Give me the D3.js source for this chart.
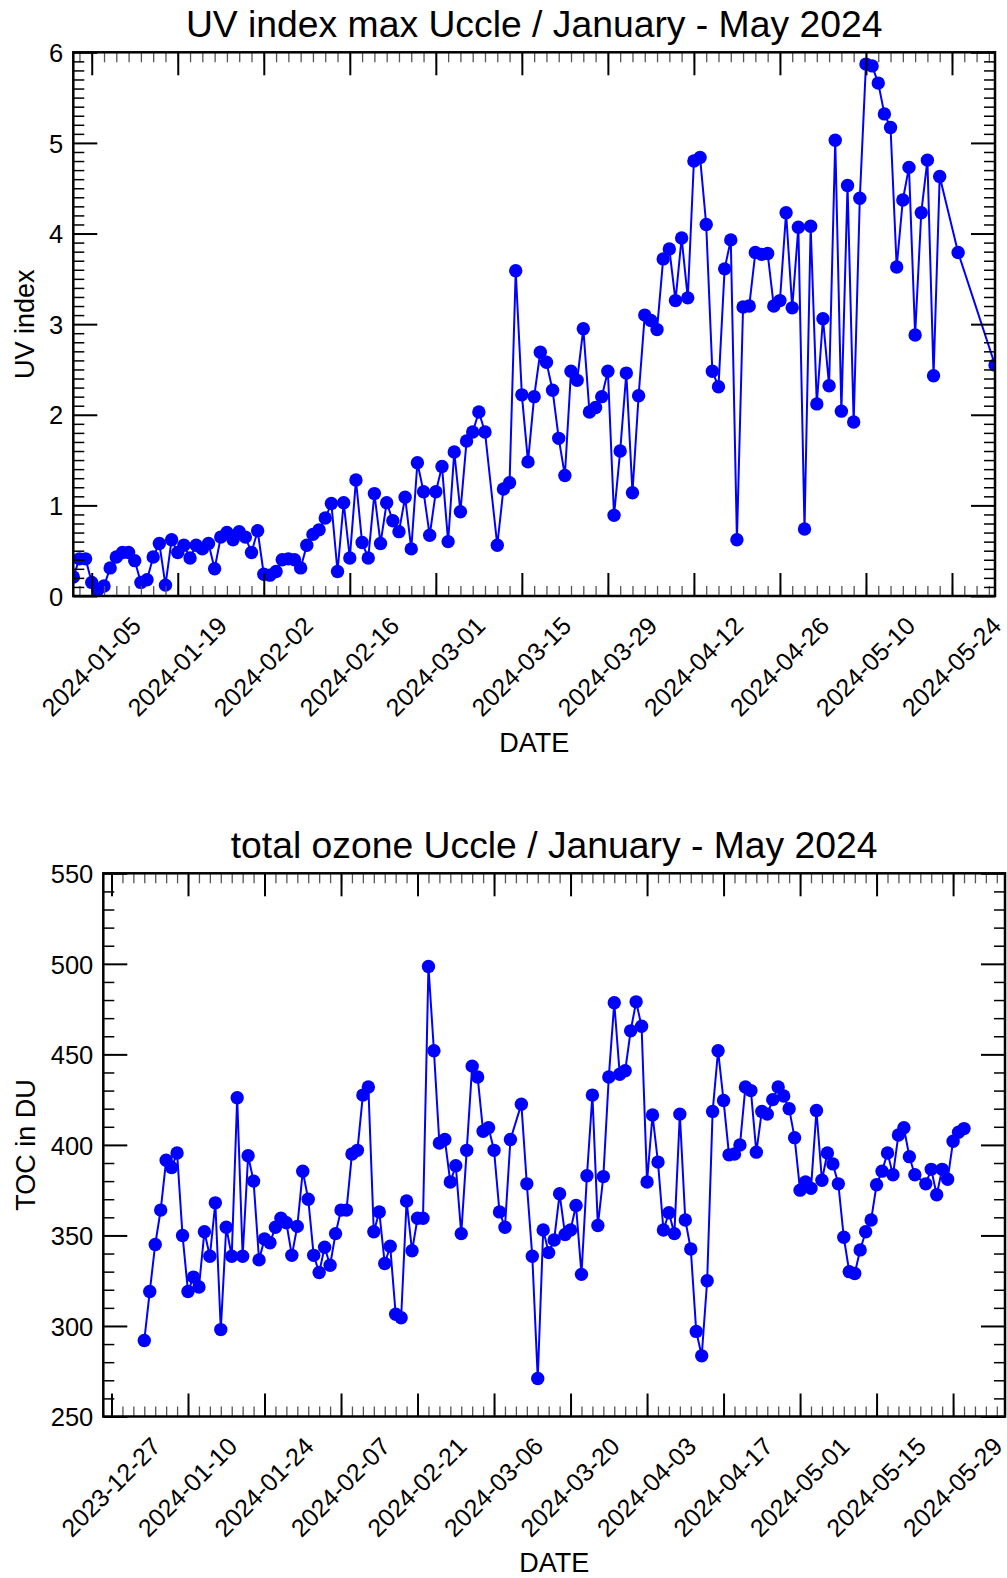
<!DOCTYPE html>
<html>
<head>
<meta charset="utf-8">
<script src="https://cdn.jsdelivr.net/npm/d3@7"></script>
<style>
  html, body { margin: 0; padding: 0; background: #fff; }
  svg { display: block; font-family: "Liberation Sans", Arial, Helvetica, sans-serif; }
</style>
</head>
<body>
<svg id="chart" width="1007" height="1578"></svg>
<script>
// Daily maximum UV index, Uccle 2024 — one entry per calendar day, null = no observation
const uvJanuary = [null, 0.21, 0.41, 0.41, 0.15, 0.07, 0.11, 0.31, 0.43, 0.48, 0.48, 0.39, 0.15, 0.18, 0.43, 0.58,
  0.12, 0.62, 0.48, 0.56, 0.42, 0.56, 0.52, 0.58, 0.30, 0.65, 0.70, 0.62, 0.71, 0.65, 0.48];
const uvFebruary = [0.72, 0.24, 0.23, 0.27, 0.40, 0.41, 0.40, 0.31, 0.56, 0.68, 0.73, 0.86, 1.02, 0.27, 1.03,
  0.42, 1.28, 0.59, 0.42, 1.13, 0.58, 1.03, 0.83, 0.71, 1.09, 0.52, 1.47, 1.15, 0.67];
const uvMarch = [1.15, 1.43, 0.60, 1.59, 0.93, 1.71, 1.81, 2.03, 1.81, null, 0.56, 1.18, 1.25, 3.59, 2.22, 1.48,
  2.20, 2.69, 2.58, 2.27, 1.74, 1.33, 2.48, 2.38, 2.95, 2.03, 2.08, 2.20, 2.48, 0.89, 1.60];
const uvApril = [2.46, 1.14, 2.21, 3.10, 3.04, 2.94, 3.72, 3.83, 3.26, 3.95, 3.29, 4.80, 4.84, 4.10, 2.48,
  2.31, 3.61, 3.93, 0.62, 3.19, 3.20, 3.79, 3.77, 3.78, 3.20, 3.26, 4.23, 3.18, 4.07, 0.74];
const uvMay = [4.08, 2.12, 3.06, 2.32, 5.03, 2.04, 4.53, 1.92, 4.39, 5.87, 5.85, 5.66, 5.32, 5.17, 3.63, 4.37,
  4.73, 2.88, 4.23, 4.81, 2.43, 4.63, null, null, 3.79, null, null, null, null, null, 2.55];

// Daily total ozone column (DU), Uccle 2024
const ozoneJanuary = [null, 292, 319, 345, 364, 391.5, 387.5, 395.5, 350, 319, 327, 321.5, 352, 338.5, 368, 298,
  354.5, 338.5, 426, 338.5, 394, 380, 336.5, 348, 346, 354.5, 359.5, 357, 339, 355, 385.5];
const ozoneFebruary = [370, 339, 329.5, 343.5, 333.5, 351, 364, 364, 395, 397, 427.5, 432, 352, 363, 334.5,
  344, 306.5, 304.5, 369, 341.5, 359.5, 359.5, 498.5, 452, 401, 403, 379.5, 388.5, 351];
const ozoneMarch = [397, 443.5, 437.5, 407.5, 409.5, 397, 363, 354.5, 403, null, 422.5, 378.5, 338.5, 271, 353,
  340.5, 347.5, 373, 350.5, 353, 366.5, 328.5, 383, 427.5, 355.5, 382.5, 437.5, 478.5, 439, 441, 463];
const ozoneApril = [479, 465.5, 379.5, 416.5, 390.5, 353, 362.5, 351, 417, 358.5, 342.5, 297, 283.5, 325, 418.5,
  452, 424.5, 394.5, 395, 400, 432, 430, 396, 418.5, 417, 425, 432, 427, 420, 404];
const ozoneMay = [375, 379.5, 376, 419, 380.5, 395.5, 389.5, 378.5, 349, 330, 329, 342, 352, 358.5, 378, 385.5,
  395.5, 383.5, 405.5, 409.5, 393.5, 383.5, null, 378.5, 386.5, 372.5, 386.5, 381, 402, 407, 409];

// Labelled date ticks
const uvTickLabels = ["2024-01-05", "2024-01-19", "2024-02-02", "2024-02-16", "2024-03-01", "2024-03-15",
  "2024-03-29", "2024-04-12", "2024-04-26", "2024-05-10", "2024-05-24"];
const ozoneTickLabels = ["2023-12-27", "2024-01-10", "2024-01-24", "2024-02-07", "2024-02-21", "2024-03-06",
  "2024-03-20", "2024-04-03", "2024-04-17", "2024-05-01", "2024-05-15", "2024-05-29"];
const uvYTicks = [0, 1, 2, 3, 4, 5, 6];
const ozoneYTicks = [250, 300, 350, 400, 450, 500, 550];

// Turn the per-month day lists into dated points
function dailySeries(months) {
  const out = [];
  months.forEach((values, m) => {
    values.forEach((v, i) => {
      if (v != null) out.push({ date: new Date(Date.UTC(2024, m, i + 1)), value: v });
    });
  });
  return out;
}
const uvSeries = dailySeries([uvJanuary, uvFebruary, uvMarch, uvApril, uvMay]);
const ozoneSeries = dailySeries([ozoneJanuary, ozoneFebruary, ozoneMarch, ozoneApril, ozoneMay]);

const svg = d3.select("#chart");
const parse = d3.utcParse("%Y-%m-%d");
const fmt = d3.utcFormat("%Y-%m-%d");
const BLUE = "#0000ff";
const TICK_FONT = 25;
const LABEL_FONT = 27;
const TITLE_FONT = 37.3;

function drawPanel(cfg) {
  const { box, series, xDomain, yDomain, yTicks, yMinorStep, xTickLabels, title, yLabel, id } = cfg;
  const x = d3.scaleUtc(xDomain, [box.left, box.right]);
  const y = d3.scaleLinear(yDomain, [box.bottom, box.top]);
  const g = svg.append("g");

  g.append("clipPath").attr("id", id).append("rect")
    .attr("x", box.left).attr("y", box.top)
    .attr("width", box.right - box.left).attr("height", box.bottom - box.top);

  // data
  const plot = g.append("g").attr("clip-path", `url(#${id})`);
  plot.append("path")
    .datum(series)
    .attr("fill", "none")
    .attr("stroke", BLUE)
    .attr("stroke-width", 2)
    .attr("stroke-linejoin", "round")
    .attr("d", d3.line().x(d => x(d.date)).y(d => y(d.value)));
  plot.selectAll("circle").data(series).join("circle")
    .attr("cx", d => x(d.date)).attr("cy", d => y(d.value))
    .attr("r", 6.7).attr("fill", BLUE);

  // tick positions
  const majorDates = xTickLabels.map(parse);
  const minorDates = d3.utcDay.range(d3.utcDay.offset(majorDates[0], -14), xDomain[1], 2)
    .filter(d => d >= xDomain[0] && d <= xDomain[1]);
  const yMinor = d3.range(yDomain[0], yDomain[1] + 1e-9, yMinorStep)
    .filter(v => !yTicks.some(t => Math.abs(t - v) < 1e-9));

  const tidy = sel => { sel.select(".domain").remove(); };

  // minor x ticks (top & bottom)
  g.append("g").attr("transform", `translate(0,${box.bottom})`)
    .call(d3.axisBottom(x).tickValues(minorDates).tickSize(-10).tickFormat(""))
    .call(tidy).selectAll("line").attr("stroke", "#555").attr("stroke-width", 1.3);
  g.append("g").attr("transform", `translate(0,${box.top})`)
    .call(d3.axisTop(x).tickValues(minorDates).tickSize(-10).tickFormat(""))
    .call(tidy).selectAll("line").attr("stroke", "#555").attr("stroke-width", 1.3);

  // major x ticks with rotated date labels
  const xb = g.append("g").attr("transform", `translate(0,${box.bottom})`)
    .call(d3.axisBottom(x).tickValues(majorDates).tickSize(-23).tickFormat(fmt))
    .call(tidy);
  xb.selectAll("line").attr("stroke", "#000").attr("stroke-width", 2);
  xb.selectAll("text")
    .attr("y", 0).attr("dy", "0.35em")
    .attr("text-anchor", "middle")
    .attr("transform", "translate(-1,70.5) rotate(-45)")
    .attr("font-size", TICK_FONT).attr("fill", "#000");
  g.append("g").attr("transform", `translate(0,${box.top})`)
    .call(d3.axisTop(x).tickValues(majorDates).tickSize(-23).tickFormat(""))
    .call(tidy).selectAll("line").attr("stroke", "#000").attr("stroke-width", 2);

  // y ticks, left with labels and mirrored on the right
  g.append("g").attr("transform", `translate(${box.left},0)`)
    .call(d3.axisLeft(y).tickValues(yMinor).tickSize(-11).tickFormat(""))
    .call(tidy).selectAll("line").attr("stroke", "#000").attr("stroke-width", 1.5);
  g.append("g").attr("transform", `translate(${box.right},0)`)
    .call(d3.axisRight(y).tickValues(yMinor).tickSize(-11).tickFormat(""))
    .call(tidy).selectAll("line").attr("stroke", "#000").attr("stroke-width", 1.5);
  const yl = g.append("g").attr("transform", `translate(${box.left},0)`)
    .call(d3.axisLeft(y).tickValues(yTicks).tickSize(-24).tickPadding(10).tickFormat(d3.format("d")))
    .call(tidy);
  yl.selectAll("line").attr("stroke", "#000").attr("stroke-width", 2);
  yl.selectAll("text").attr("dy", "0.36em").attr("font-size", 25.5).attr("fill", "#000");
  g.append("g").attr("transform", `translate(${box.right},0)`)
    .call(d3.axisRight(y).tickValues(yTicks).tickSize(-24).tickFormat(""))
    .call(tidy).selectAll("line").attr("stroke", "#000").attr("stroke-width", 2);

  // frame
  g.append("rect")
    .attr("x", box.left).attr("y", box.top)
    .attr("width", box.right - box.left).attr("height", box.bottom - box.top)
    .attr("fill", "none").attr("stroke", "#000").attr("stroke-width", 2.5);

  // titles
  const cx = (box.left + box.right) / 2;
  g.append("text").attr("x", cx).attr("y", box.top - 15.3)
    .attr("text-anchor", "middle").attr("font-size", TITLE_FONT).text(title);
  g.append("text").attr("x", cx).attr("y", box.bottom + 146)
    .attr("text-anchor", "middle").attr("dy", "0.36em").attr("font-size", LABEL_FONT).text("DATE");
  g.append("text")
    .attr("transform", `translate(${cfg.yLabelX},${(box.top + box.bottom) / 2}) rotate(-90)`)
    .attr("text-anchor", "middle").attr("dy", "0.36em").attr("font-size", LABEL_FONT).text(yLabel);
}

// UV panel: x range spans exactly the observed days
drawPanel({
  id: "clip-uv",
  box: { left: 73.3, right: 995, top: 52.3, bottom: 596 },
  series: uvSeries,
  xDomain: d3.extent(uvSeries, d => d.date),
  yDomain: [0, 6],
  yTicks: uvYTicks,
  yMinorStep: 0.1,
  xTickLabels: uvTickLabels,
  title: "UV index max Uccle / January - May 2024",
  yLabel: "UV index",
  yLabelX: 24
});

// Ozone panel: 5 % padding on both sides of the observed days
const [o0, o1] = d3.extent(ozoneSeries, d => d.date);
const pad = (o1 - o0) * 0.05;
drawPanel({
  id: "clip-oz",
  box: { left: 103.3, right: 1005, top: 873.3, bottom: 1416.5 },
  series: ozoneSeries,
  xDomain: [new Date(+o0 - pad), new Date(+o1 + pad)],
  yDomain: [250, 550],
  yTicks: ozoneYTicks,
  yMinorStep: 10,
  xTickLabels: ozoneTickLabels,
  title: "total ozone Uccle / January - May 2024",
  yLabel: "TOC in DU",
  yLabelX: 25
});
</script>
</body>
</html>
